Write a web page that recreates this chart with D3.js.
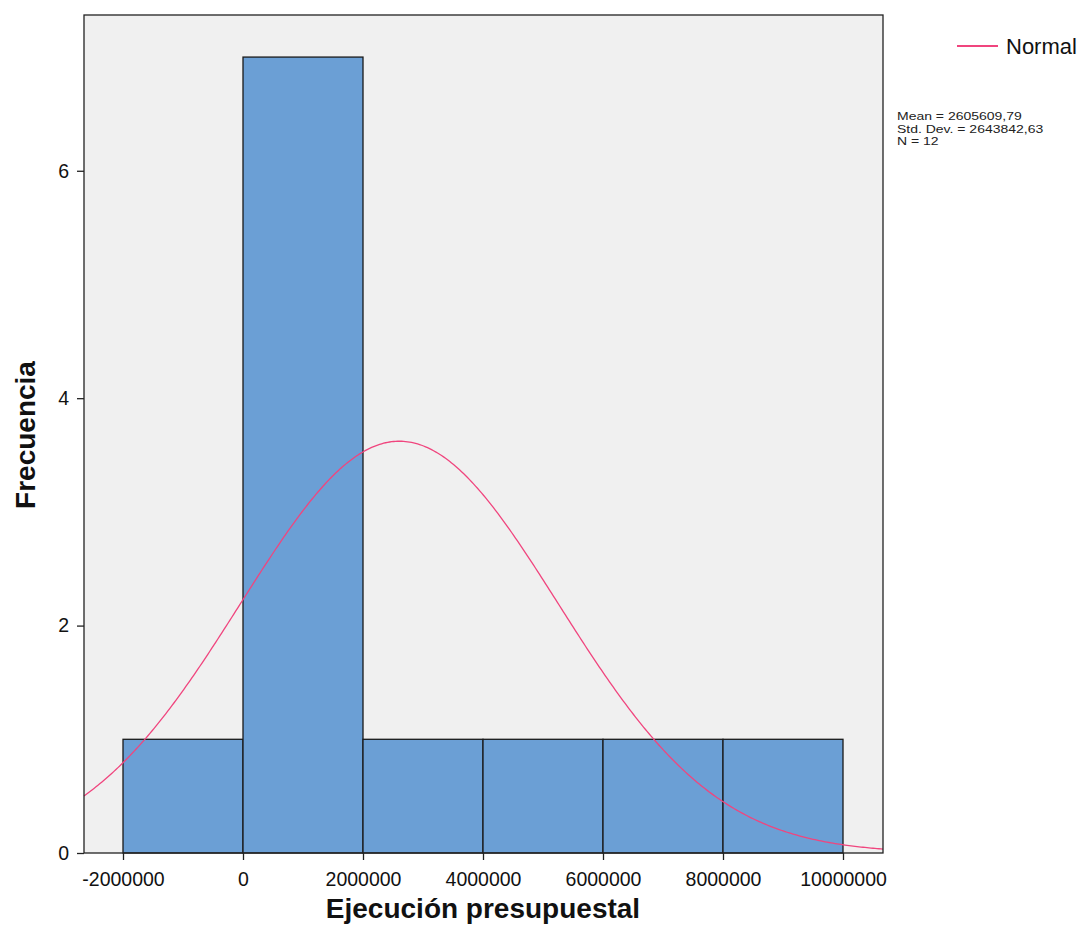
<!DOCTYPE html>
<html><head><meta charset="utf-8">
<script src="https://cdn.jsdelivr.net/npm/d3@7"></script>
<style>body{margin:0;background:#fff}svg{display:block}text{font-family:"Liberation Sans",Arial,sans-serif}</style>
</head><body><svg id="c" width="1088" height="939"></svg>
<script>
const binStarts = [-2000000, 0, 2000000, 4000000, 6000000, 8000000];
const binWidth = 2000000;
const counts = [1, 7, 1, 1, 1, 1];
const xTicks = [-2000000, 0, 2000000, 4000000, 6000000, 8000000, 10000000];
const yTicks = [0, 2, 4, 6];
const statMean = 2605609.79, statSD = 2643842.63, statN = 12;
const statLines = ["Mean = 2605609,79", "Std. Dev. = 2643842,63", "N = 12"];

const svg = d3.select("#c");
const L = 84, R = 883, T = 15, B = 853;
const x = d3.scaleLinear().domain([-2650000, 10666667]).range([L, R]);
const y = d3.scaleLinear().domain([0, 7.37]).range([B, T]);

svg.append("rect").attr("x", L).attr("y", T).attr("width", R - L).attr("height", B - T).attr("fill", "#f0f0f0");

svg.selectAll("rect.bar").data(binStarts).enter().append("rect").attr("class","bar")
  .attr("x", d => x(d)).attr("y", (d,i) => y(counts[i]))
  .attr("width", d => x(d + binWidth) - x(d)).attr("height", (d,i) => y(0) - y(counts[i]))
  .attr("fill", "#6b9fd5").attr("stroke", "#1a1a1a").attr("stroke-width", 1.3);

const pts = d3.range(0, 401).map(i => {
  const v = x.domain()[0] + (x.domain()[1] - x.domain()[0]) * i / 400;
  const z = (v - statMean) / statSD;
  return [v, statN * binWidth * Math.exp(-0.5 * z * z) / (statSD * Math.sqrt(2 * Math.PI))];
});
svg.append("path").datum(pts).attr("fill", "none").attr("stroke", "#f0457e").attr("stroke-width", 1.3)
  .attr("d", d3.line().x(d => x(d[0])).y(d => y(d[1])));

svg.append("rect").attr("x", L).attr("y", T).attr("width", R - L).attr("height", B - T)
  .attr("fill", "none").attr("stroke", "#222").attr("stroke-width", 1.3);

const xa = svg.append("g").attr("transform", `translate(0,${B})`)
  .call(d3.axisBottom(x).tickValues(xTicks).tickSize(7).tickSizeOuter(0).tickFormat(d => String(d)));
xa.select(".domain").remove();
xa.selectAll("line").attr("stroke", "#222").attr("stroke-width", 1.3);
xa.selectAll("text").attr("font-size", 19.5).attr("fill", "#111").attr("y", 26).attr("dy", "0.35em");

const ya = svg.append("g").attr("transform", `translate(${L},0)`)
  .call(d3.axisLeft(y).tickValues(yTicks).tickSize(7).tickSizeOuter(0));
ya.select(".domain").remove();
ya.selectAll("line").attr("stroke", "#222").attr("stroke-width", 1.3);
ya.selectAll("text").attr("font-size", 19.5).attr("fill", "#111").attr("x", -15);

svg.append("text").attr("x", 483).attr("y", 918).attr("text-anchor", "middle")
  .attr("font-size", 28).attr("font-weight", "bold").attr("fill", "#111").text("Ejecución presupuestal");
svg.append("text").attr("transform", "translate(35,435) rotate(-90)").attr("text-anchor", "middle")
  .attr("font-size", 28).attr("font-weight", "bold").attr("fill", "#111").text("Frecuencia");

svg.append("line").attr("x1", 957).attr("x2", 998).attr("y1", 46).attr("y2", 46).attr("stroke", "#f0457e").attr("stroke-width", 1.8);
svg.append("text").attr("x", 1006).attr("y", 54).attr("font-size", 22).attr("fill", "#111").text("Normal");
svg.selectAll("text.st").data(statLines).enter().append("text").attr("class","st")
  .attr("transform", (d,i) => `translate(897,${120 + i * 12.5}) scale(1,0.8)`)
  .attr("font-size", 14).attr("fill", "#222").text(d => d);
</script></body></html>
